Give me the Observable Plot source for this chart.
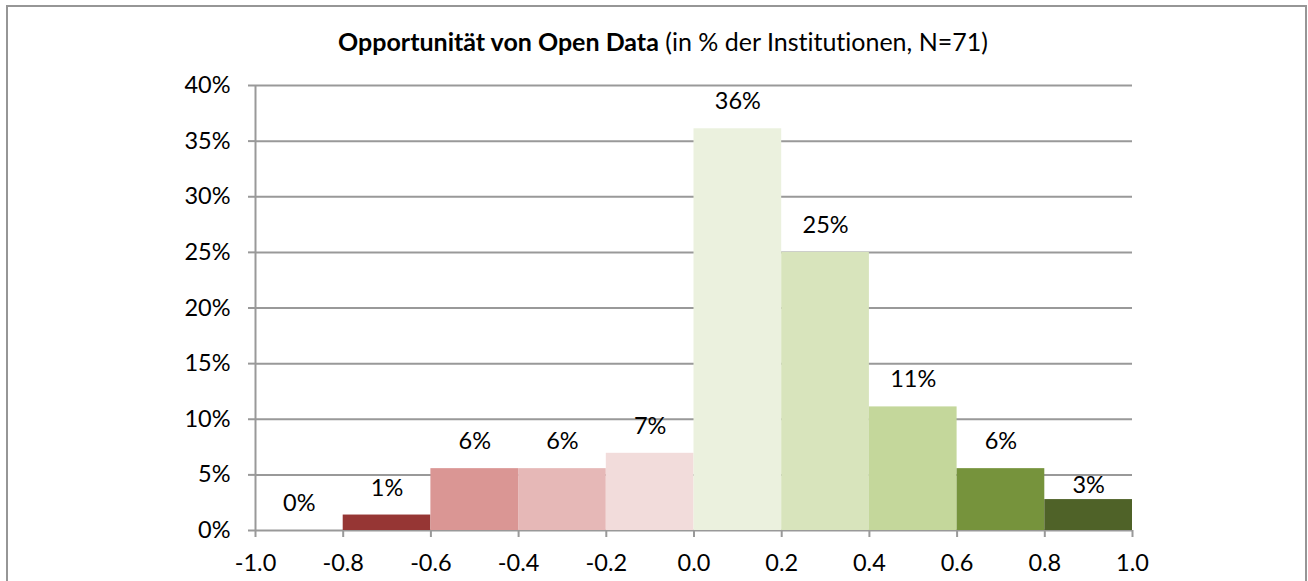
<!DOCTYPE html>
<html>
<head>
<meta charset="utf-8">
<script src="https://cdn.jsdelivr.net/npm/d3@7"></script>
<script src="https://cdn.jsdelivr.net/npm/@observablehq/plot@0.6"></script>
<style>
  html, body { margin: 0; padding: 0; background: #fff; overflow: hidden; }
  #wrap { position: relative; width: 1308px; height: 581px; font-family: Lato, "Open Sans", sans-serif; font-variant-ligatures: none; }
  #frame { position: absolute; left: 6px; top: 5px; width: 1301px; height: 620px; border: 2px solid #969696; box-sizing: border-box; }
  #title { position: absolute; left: 0; top: 29px; width: 1326px; text-align: center; font-size: 25px; line-height: 1; color: #000; white-space: nowrap; font-variant-ligatures: none; }
  #title b { font-weight: 700; }
  #chart { position: absolute; left: 0; top: 0; }
  #chart svg text { font-variant-ligatures: none; }
</style>
</head>
<body>
<div id="wrap">
  <div id="frame"></div>
  <div id="chart"></div>
  <div id="title"><b>Opportunität von Open Data</b> (in % der Institutionen, N=71)</div>
</div>
<script>
// Bins of the opportunity score and share of institutions (in %)
const binStart = [-1.0, -0.8, -0.6, -0.4, -0.2, 0.0, 0.2, 0.4, 0.6, 0.8];
const binEnd   = [-0.8, -0.6, -0.4, -0.2, 0.0, 0.2, 0.4, 0.6, 0.8, 1.0];
const shares   = [0, 1.39, 5.56, 5.56, 6.94, 36.11, 25.0, 11.11, 5.56, 2.78];
const labels   = ["0%", "1%", "6%", "6%", "7%", "36%", "25%", "11%", "6%", "3%"];
const colors   = ["#963634", "#963634", "#DA9694", "#E6B8B7", "#F2DCDB", "#EBF1DE", "#D8E4BC", "#C4D79B", "#76933C", "#4F6228"];
const xTicks   = [-1.0, -0.8, -0.6, -0.4, -0.2, 0.0, 0.2, 0.4, 0.6, 0.8, 1.0];
const yTicks   = [0, 5, 10, 15, 20, 25, 30, 35, 40];

const bins = binStart.map((s, i) => ({
  x1: s, x2: binEnd[i], mid: (s + binEnd[i]) / 2,
  share: shares[i], label: labels[i], color: colors[i], last: i === binStart.length - 1
}));

const gray = "#999999";
const fs = 23.5;

const chart = Plot.plot({
  width: 1308,
  height: 581,
  marginLeft: 255,
  marginRight: 176,
  marginTop: 85,
  marginBottom: 51,
  style: { fontFamily: "Lato, 'Open Sans', sans-serif", background: "transparent", overflow: "visible" },
  x: { domain: [-1, 1] },
  y: { domain: [0, 40] },
  marks: [
    Plot.gridY(yTicks, { stroke: gray, strokeWidth: 2, strokeOpacity: 1 }),
    Plot.rectY(bins, { x1: "x1", x2: "x2", y: "share", fill: "color", inset: 0 }),
    Plot.ruleX([-1], { stroke: gray, strokeWidth: 2 }),
    Plot.axisY(yTicks, {
      tickSize: 7, tickPadding: 18, tickFormat: d => d + "%",
      fontSize: fs, stroke: gray, strokeWidth: 2, fill: "#000", label: null
    }),
    Plot.axisX(xTicks, {
      tickSize: 7, tickPadding: 17, tickFormat: d => d.toFixed(1),
      fontSize: fs, stroke: gray, strokeWidth: 2, fill: "#000", label: null
    }),
    Plot.text(bins.filter(d => !d.last), {
      x: "mid", y: "share", text: "label", dy: -27,
      fontSize: fs, fill: "#000"
    }),
    Plot.text(bins.filter(d => d.last), {
      x: "mid", y: "share", text: "label", dy: -14,
      fontSize: fs, fill: "#000"
    })
  ]
});
document.getElementById("chart").appendChild(chart);
</script>
</body>
</html>
